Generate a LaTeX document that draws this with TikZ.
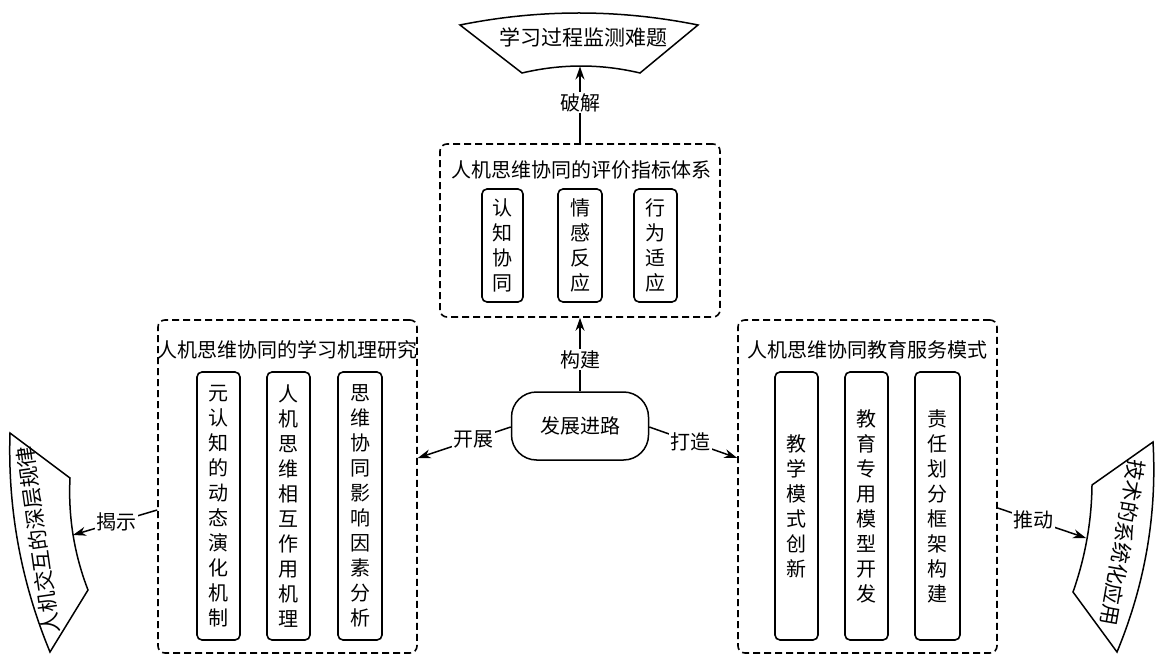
\documentclass[tikz,border=0pt]{standalone}
\usepackage{fontspec}
\setmainfont{Noto Sans CJK SC}
\usetikzlibrary{arrows.meta}
\begin{document}
\begin{tikzpicture}[x=1pt,y=-1pt,
  grp/.style={draw, line width=1.6pt, dash pattern=on 7pt off 4pt, rounded corners=7pt, inner sep=0pt},
  sub/.style={draw, line width=1.6pt, rounded corners=5pt, inner sep=0pt, align=center, font=\fontsize{20}{25}\selectfont},
  ttl/.style={font=\fontsize{20}{24}\selectfont, inner sep=0pt},
  lab/.style={fill=white, inner sep=1.5pt, font=\fontsize{20}{24}\selectfont},
  conn/.style={line width=1.5pt, -{Stealth[length=13pt,width=9pt]}},
  ban/.style={draw, line width=1.5pt, line join=miter},
  bantxt/.style={font=\fontsize{21}{24}\selectfont, inner sep=0pt}]
\useasboundingbox (0,0) rectangle (1161,660);

% top group
\node[grp, minimum width=280pt, minimum height=173pt] (T) at (580,230.5) {};
\node[ttl] (Tt) at (581,170) {人机思维协同的评价指标体系};
\node[sub, minimum width=41pt, minimum height=113pt] (T1) at (502.5,245.5) {认\\知\\协\\同};
\node[sub, minimum width=44pt, minimum height=113pt] (T2) at (580,245.5) {情\\感\\反\\应};
\node[sub, minimum width=43pt, minimum height=113pt] (T3) at (655.5,245.5) {行\\为\\适\\应};

% left group
\node[grp, minimum width=259pt, minimum height=333pt] (L) at (287.5,486.5) {};
\node[ttl] (Lt) at (287,350) {人机思维协同的学习机理研究};
\node[sub, minimum width=43pt, minimum height=268pt] (L1) at (218.5,506) {元\\认\\知\\的\\动\\态\\演\\化\\机\\制};
\node[sub, minimum width=43pt, minimum height=268pt] (L2) at (288.5,506) {人\\机\\思\\维\\相\\互\\作\\用\\机\\理};
\node[sub, minimum width=44pt, minimum height=268pt] (L3) at (360,506) {思\\维\\协\\同\\影\\响\\因\\素\\分\\析};

% right group
\node[grp, minimum width=259pt, minimum height=333pt] (R) at (867.5,486.5) {};
\node[ttl] (Rt) at (867,350) {人机思维协同教育服务模式};
\node[sub, minimum width=43pt, minimum height=268pt] (R1) at (796.5,506) {教\\学\\模\\式\\创\\新};
\node[sub, minimum width=43pt, minimum height=268pt] (R2) at (866.5,506) {教\\育\\专\\用\\模\\型\\开\\发};
\node[sub, minimum width=45pt, minimum height=268pt] (R3) at (937.5,506) {责\\任\\划\\分\\框\\架\\构\\建};

% centre
\node[draw, line width=1.5pt, rounded corners=25pt, minimum width=137pt, minimum height=68pt, font=\fontsize{20}{24}\selectfont] (D) at (580,426) {发展进路};

% banners
\draw[ban] (460,25) .. controls (539.3,9) and (618.7,9) .. (698,25)
  -- (640,73) .. controls (600.7,63.7) and (561.3,63.7) .. (522,73) -- cycle;
\node[bantxt] (Bt) at (583,37) {学习过程监测难题};
\coordinate (Btin) at (580,66.5);

\draw[ban] (10,433) -- (70,478) .. controls (68.1,516.6) and (74.1,554) .. (88,590)
  -- (50,652) .. controls (21,581.9) and (7.6,508.9) .. cycle;
\node[bantxt, rotate=98] (Bl) at (38,540) {人机交互的深层规律};
\coordinate (Blin) at (73,535);

\draw[ban] (1153,442) -- (1092,485) .. controls (1091.6,521.7) and (1085.2,557.3) .. (1073,592)
  -- (1117,652) .. controls (1146,582) and (1157,512) .. cycle;
\node[bantxt, rotate=-100] (Br) at (1123,543) {技术的系统化应用};
\coordinate (Brin) at (1086,538);

% connectors
\draw[conn] (D.north) -- node[lab, pos=0.43] {构建} (T.south);
\draw[conn] (T.north) -- node[lab, pos=0.53] {破解} (Btin);
\draw[conn] ([yshift=-1pt]D.west) -- node[lab, pos=0.4] {开展} ([yshift=28.5pt]L.east);
\draw[conn] ([yshift=-1pt]D.east) -- node[lab, pos=0.47] {打造} ([yshift=28.5pt]R.west);
\draw[conn] ([yshift=-23.5pt]L.west) -- node[lab, pos=0.48] {揭示} (Blin);
\draw[conn] ([yshift=-21.5pt]R.east) -- node[lab, pos=0.4] {推动} (Brin);
\end{tikzpicture}
\end{document}
